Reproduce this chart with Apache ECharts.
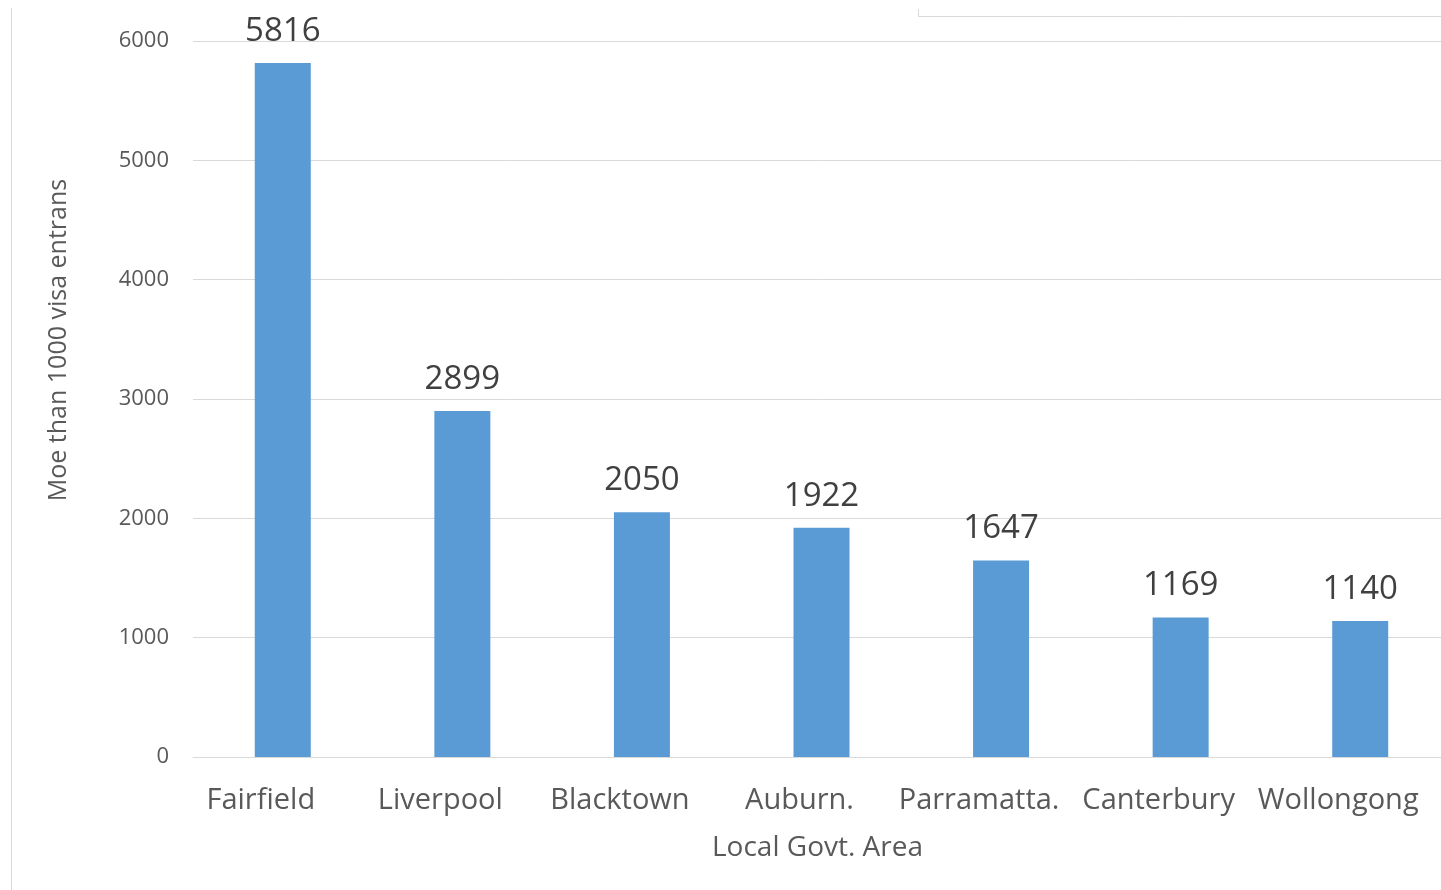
<!DOCTYPE html>
<html><head><meta charset="utf-8">
<script src="https://cdn.jsdelivr.net/npm/echarts@6/dist/echarts.min.js"></script>
<style>html,body{margin:0;padding:0;background:#fff}#c{width:1441px;height:890px}</style>
</head><body><div id="c"></div>
<script>
const categories = ['Fairfield','Liverpool','Blacktown','Auburn.','Parramatta.','Canterbury','Wollongong'];
const values = [5816, 2899, 2050, 1922, 1647, 1169, 1140];
const yTicks = [0, 1000, 2000, 3000, 4000, 5000, 6000];
const FONT = '"Open Sans", "Noto Sans", sans-serif';
const chart = echarts.init(document.getElementById('c'));
chart.setOption({
  animation: false,
  grid: {left: 193, width: 1257, top: 41, bottom: 133, containLabel: false, outerBoundsMode: 'none'},
  graphic: [
    {type: 'line', shape: {x1: 11.5, y1: 8, x2: 11.5, y2: 890}, style: {stroke: '#d9d9d9', lineWidth: 1}},
    {type: 'polyline', shape: {points: [[918.5, 9], [918.5, 16.5], [1441, 16.5]]}, style: {stroke: '#d9d9d9', lineWidth: 1, fill: null}}
  ],
  xAxis: {
    type: 'category', data: categories,
    name: 'Local Govt. Area', nameLocation: 'middle', nameGap: 77,
    nameTextStyle: {fontFamily: FONT, fontSize: 28, color: '#595959', padding: [0, 8, 0, 0]},
    axisLine: {lineStyle: {color: '#d9d9d9', width: 1}},
    axisTick: {show: false},
    axisLabel: {interval: 0, fontFamily: FONT, fontSize: 29, color: '#595959', margin: 29, padding: [0, 44, 0, 0]}
  },
  yAxis: {
    type: 'value', min: yTicks[0], max: yTicks[yTicks.length - 1], interval: 1000,
    name: 'Moe than 1000 visa entrans', nameLocation: 'middle', nameGap: 122,
    nameTextStyle: {fontFamily: FONT, fontSize: 25, color: '#595959', padding: [0, 0, 0, 118]},
    axisLine: {show: false}, axisTick: {show: false},
    splitLine: {lineStyle: {color: '#d9d9d9', width: 1}},
    axisLabel: {fontFamily: FONT, fontSize: 22, color: '#595959', margin: 24, formatter: v => String(v)}
  },
  series: [{
    type: 'bar', data: values, barWidth: 56,
    itemStyle: {color: '#5b9bd5'},
    label: {show: true, position: 'top', distance: 15, fontFamily: FONT, fontSize: 33, color: '#404040'}
  }]
});
</script></body></html>
